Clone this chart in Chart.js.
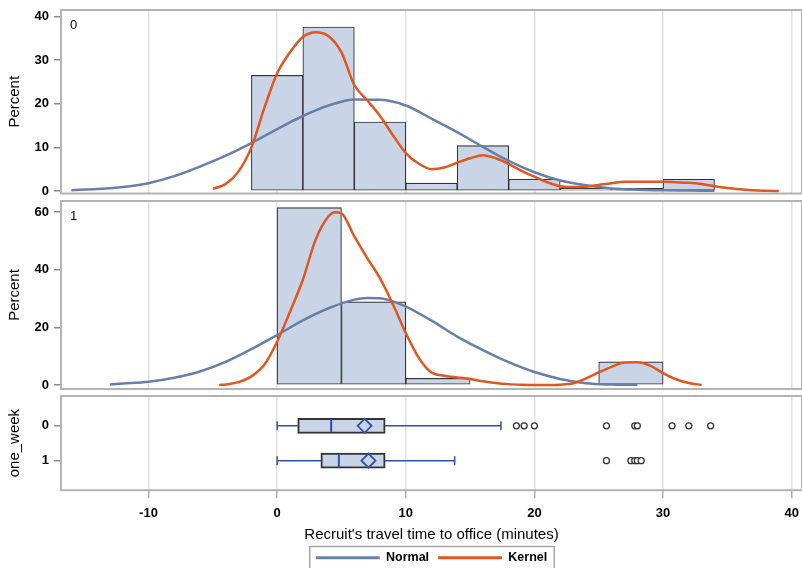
<!DOCTYPE html>
<html>
<head>
<meta charset="utf-8">
<script src="https://cdn.jsdelivr.net/npm/chart.js@4.4.1/dist/chart.umd.min.js"></script>
<style>
  html, body { margin: 0; padding: 0; background: #fff; overflow: hidden; }
  #wrap { position: relative; width: 802px; height: 568px; overflow: hidden; }
  #wrap canvas { position: absolute; left: 0; }
</style>
</head>
<body>
<div id="wrap">
  <canvas id="hist0" width="802" height="197" style="top:0"></canvas>
  <canvas id="hist1" width="802" height="195" style="top:197px"></canvas>
  <canvas id="boxes" width="802" height="182" style="top:392px"></canvas>
</div>
<script>
// shared x axis
const xTicks = [-10, 0, 10, 20, 30, 40];
const xMin = -16.8;
const xMax = 40.8;

// one_week = 0 : histogram (bin midpoints, percent)
const bins0 = [0, 4, 8, 12, 16, 20, 24, 28, 32];
const pct0 = [26.5, 37.6, 15.8, 1.8, 10.4, 2.7, 0.6, 0.6, 2.7];
const yTicks0 = [0, 10, 20, 30, 40];

const normal0X = [-16, -14, -12, -10, -8, -6, -4, -2, 0, 2, 4, 6, 8, 10, 12, 14, 16, 18, 20, 22, 24, 26, 28, 30, 32, 34];
const normal0Y = [0.2, 0.45, 0.9, 1.8, 3.4, 5.6, 8.1, 11.0, 14.2, 17.2, 19.6, 21.0, 20.9, 19.6, 16.6, 13.5, 10.1, 6.9, 4.3, 2.4, 1.3, 0.6, 0.3, 0.15, 0.1, 0.05];

const kernel0X = [-5, -4, -3, -2, -1, 0, 1, 2, 3, 4, 5, 6, 7, 8, 9, 10, 11, 12, 13, 14, 15, 16, 17, 18, 19, 20, 21, 22, 23, 24, 25, 26, 27, 28, 29, 30, 31, 32, 33, 34, 35, 36, 37, 38, 39];
const kernel0Y = [0.5, 1.6, 4.5, 10.0, 19.0, 27.0, 31.8, 35.3, 36.4, 35.5, 31.8, 24.3, 20.8, 17.2, 12.8, 8.7, 6.3, 5.0, 5.4, 6.5, 7.5, 8.2, 7.5, 6.2, 4.6, 3.3, 2.0, 1.1, 0.9, 1.0, 1.4, 1.8, 2.1, 2.1, 2.1, 2.1, 2.0, 1.9, 1.6, 1.1, 0.7, 0.4, 0.15, 0.05, 0];

// one_week = 1 : histogram
const bins1 = [2.5, 7.5, 12.5, 17.5, 22.5, 27.5];
const pct1 = [61.5, 28.8, 2.3, 0, 0, 8.0];
const yTicks1 = [0, 20, 40, 60];

const normal1X = [-13, -12, -10, -8, -6, -4, -2, 0, 2, 4, 6, 7, 8, 10, 12, 14, 16, 18, 20, 22, 24, 26, 28];
const normal1Y = [0.2, 0.5, 1.1, 2.5, 4.7, 8.0, 12.4, 17.3, 22.4, 26.6, 29.6, 30.2, 30.1, 27.2, 22.3, 16.8, 12.1, 7.9, 4.5, 2.1, 0.6, 0.15, 0.05];

const kernel1X = [-4.5, -4, -3, -2, -1, 0, 1, 2, 3, 4, 4.5, 5, 6, 7, 8, 9, 10, 11, 12, 13, 14, 15, 16, 17, 18, 19, 20, 21, 22, 23, 24, 25, 26, 27, 28, 29, 30, 31, 32, 33];
const kernel1Y = [0, 0.2, 1.0, 3.0, 7.0, 15.0, 25.4, 36.5, 50.5, 58.5, 59.9, 59.5, 51.5, 44.0, 37.0, 28.0, 18.0, 9.5, 4.3, 3.2, 2.6, 2.1, 1.3, 0.7, 0.3, 0.1, 0, 0, 0.1, 0.6, 2.3, 4.4, 6.3, 7.8, 7.9, 6.7, 4.1, 2.0, 0.7, 0];

// box plot statistics per group
const groups = ["0", "1"];
const whiskerLo = [0, 0];
const q1 = [1.6, 3.4];
const median = [4.2, 4.8];
const mean = [6.8, 7.1];
const q3 = [8.4, 8.4];
const whiskerHi = [17.4, 13.8];
const outliers0 = [18.6, 19.2, 20.0, 25.6, 27.8, 28.0, 30.7, 32.0, 33.7];
const outliers1 = [25.6, 27.5, 27.8, 28.0, 28.3];

const LINE_NORMAL = "#6680aa";
const LINE_KERNEL = "#e2561f";
const FILL = "#c9d5e6";
const EDGE = "#333333";
const WHISKER = "#2d50ad";
const TICK_FONT = { size: 13, weight: "bold" };

Chart.defaults.font.family = "'Liberation Sans', Arial, sans-serif";
Chart.defaults.color = "#000";

function pts(xs, ys) {
    return xs.map((x, i) => ({ x: x, y: ys[i] }));
}

function fixPadding(scale) {
    scale.paddingLeft = 0;
    scale.paddingRight = 0;
    scale.paddingTop = 0;
    scale.paddingBottom = 0;
    if (scale.axis === "y") scale.width = 61;
}

// gray frame round each panel, plus the panel's group label
const framePlugin = {
    id: "frame",
    afterDraw(chart, args, opts) {
        const { ctx, chartArea: a } = chart;
        ctx.save();
        ctx.strokeStyle = "#b3b3b3";
        ctx.lineWidth = 2;
        ctx.strokeRect(a.left, a.top, a.right - a.left, a.bottom - a.top);
        if (opts.label) {
            ctx.fillStyle = "#000";
            ctx.font = "13px 'Liberation Sans', Arial, sans-serif";
            ctx.textBaseline = "middle";
            ctx.fillText(opts.label, a.left + 9, a.top + 15);
        }
        ctx.restore();
    }
};

const legendBoxPlugin = {
    id: "legendBox",
    afterDraw(chart) {
        const boxes = chart.legend && chart.legend.legendHitBoxes;
        if (!boxes || !boxes.length) return;
        const first = boxes[0];
        const last = boxes[boxes.length - 1];
        const ctx = chart.ctx;
        ctx.save();
        ctx.strokeStyle = "#a8a8a8";
        ctx.lineWidth = 1.5;
        const left = first.left - 6;
        ctx.strokeRect(left, first.top - 5, last.left + last.width + 7 - left, 40);
        ctx.restore();
    }
};

function xAxis(showLabels) {
    return {
        type: "linear",
        min: xMin,
        max: xMax,
        offset: false,
        afterBuildTicks: s => { s.ticks = xTicks.map(v => ({ value: v })); },
        afterFit: fixPadding,
        border: { display: false },
        grid: { color: "#e2e2e2", lineWidth: 1.5, offset: false, drawTicks: showLabels, tickLength: 8, tickColor: "#b0b0b0" },
        ticks: { display: showLabels, padding: 7, maxRotation: 0, font: TICK_FONT },
        title: {
            display: showLabels,
            text: "Recruit's travel time to office (minutes)",
            font: { size: 15 },
            padding: { top: -2.3, bottom: -1 }
        }
    };
}

function yAxis(min, max, ticks, title, reverse, labels) {
    return {
        type: "linear",
        min: min,
        max: max,
        reverse: reverse,
        offset: false,
        afterBuildTicks: s => { s.ticks = ticks.map(v => ({ value: v })); },
        afterFit: fixPadding,
        border: { display: false },
        grid: { drawOnChartArea: false, offset: false, tickLength: 7, tickColor: "#8c8c8c", lineWidth: 1.5 },
        ticks: {
            padding: 5,
            font: TICK_FONT,
            callback: v => labels ? labels[v] : v
        },
        title: { display: true, text: title, font: { size: 15 }, padding: { top: 6, bottom: 0 } }
    };
}

function histChart(id, bins, pct, nX, nY, kX, kY, yMin, yMax, yTicks, panel, padTop, padBottom) {
    return new Chart(document.getElementById(id), {
        type: "bar",
        data: {
            datasets: [
                {
                    type: "line", label: "Kernel", data: pts(kX, kY),
                    borderColor: LINE_KERNEL, borderWidth: 2.5, pointRadius: 0,
                    cubicInterpolationMode: "monotone"
                },
                {
                    type: "line", label: "Normal", data: pts(nX, nY),
                    borderColor: LINE_NORMAL, borderWidth: 2.5, pointRadius: 0,
                    cubicInterpolationMode: "monotone"
                },
                {
                    type: "bar", label: "Percent", data: pts(bins, pct),
                    backgroundColor: FILL, borderColor: EDGE, borderWidth: 1.1,
                    borderSkipped: false, barPercentage: 1, categoryPercentage: 1
                }
            ]
        },
        options: {
            responsive: false,
            animation: false,
            events: [],
            layout: { autoPadding: false, padding: { top: padTop, bottom: padBottom, left: 0, right: 0 } },
            plugins: {
                legend: { display: false },
                tooltip: { enabled: false },
                frame: { label: panel }
            },
            scales: {
                x: xAxis(false),
                y: yAxis(yMin, yMax, yTicks, "Percent", false, null)
            }
        },
        plugins: [framePlugin]
    });
}

histChart("hist0", bins0, pct0, normal0X, normal0Y, kernel0X, kernel0Y, -0.57, 41.5, yTicks0, "0", 10, 3.5);
histChart("hist1", bins1, pct1, normal1X, normal1Y, kernel1X, kernel1Y, -1.39, 63.8, yTicks1, "1", 4, 3);

// box plot panel
const groupIdx = groups.map((g, i) => i);
const outlierPts = pts(outliers0, outliers0.map(() => 0)).concat(pts(outliers1, outliers1.map(() => 1)));
const capPts = pts(whiskerLo, groupIdx).concat(pts(whiskerHi, groupIdx));
const whiskerSets = groupIdx.flatMap(i => [
    [whiskerLo[i], q1[i]],
    [q3[i], whiskerHi[i]]
].map(seg => ({
    type: "line", label: "whisker", data: pts(seg, [i, i]),
    borderColor: WHISKER, borderWidth: 1.5, pointRadius: 0
})));

new Chart(document.getElementById("boxes"), {
    type: "scatter",
    data: {
        datasets: [
            {
                label: "Outliers", data: outlierPts, pointStyle: "circle", pointRadius: 3,
                pointBorderColor: "#333", pointBackgroundColor: "#fff", pointBorderWidth: 1.3
            },
            {
                label: "Mean", data: pts(mean, groupIdx), pointStyle: "rectRot", pointRadius: 7,
                pointBorderColor: WHISKER, pointBackgroundColor: "rgba(0,0,0,0)", pointBorderWidth: 1.8
            },
            {
                label: "Median", data: pts(median, groupIdx), pointStyle: "line", pointRotation: 90,
                pointRadius: 6.5, pointBorderColor: WHISKER, pointBorderWidth: 2
            },
            {
                label: "Caps", data: capPts, pointStyle: "line", pointRotation: 90,
                pointRadius: 4.5, pointBorderColor: WHISKER, pointBorderWidth: 1.5
            },
            {
                type: "bar", indexAxis: "y", label: "Box",
                data: groupIdx.map(i => ({ x: [q1[i], q3[i]], y: i })),
                backgroundColor: FILL, borderColor: EDGE, borderWidth: 2,
                borderSkipped: false, barThickness: 15
            },
            ...whiskerSets,
            { type: "line", label: "Normal", data: [], borderColor: LINE_NORMAL, backgroundColor: LINE_NORMAL, borderWidth: 0 },
            { type: "line", label: "Kernel", data: [], borderColor: LINE_KERNEL, backgroundColor: LINE_KERNEL, borderWidth: 0 }
        ]
    },
    options: {
        responsive: false,
        animation: false,
        events: [],
        layout: { autoPadding: false, padding: { top: 4, bottom: 0, left: 0, right: 0 } },
        plugins: {
            tooltip: { enabled: false },
            frame: { label: "" },
            legend: {
                position: "bottom",
                fullSize: false,
                labels: {
                    boxWidth: 64,
                    boxHeight: 3,
                    padding: 9,
                    font: { size: 12.5, weight: "bold" },
                    filter: item => item.text === "Normal" || item.text === "Kernel"
                }
            }
        },
        scales: {
            x: xAxis(true),
            y: yAxis(-0.857, 1.849, groupIdx, "one_week", true, groups)
        }
    },
    plugins: [framePlugin, legendBoxPlugin]
});
</script>
</body>
</html>
